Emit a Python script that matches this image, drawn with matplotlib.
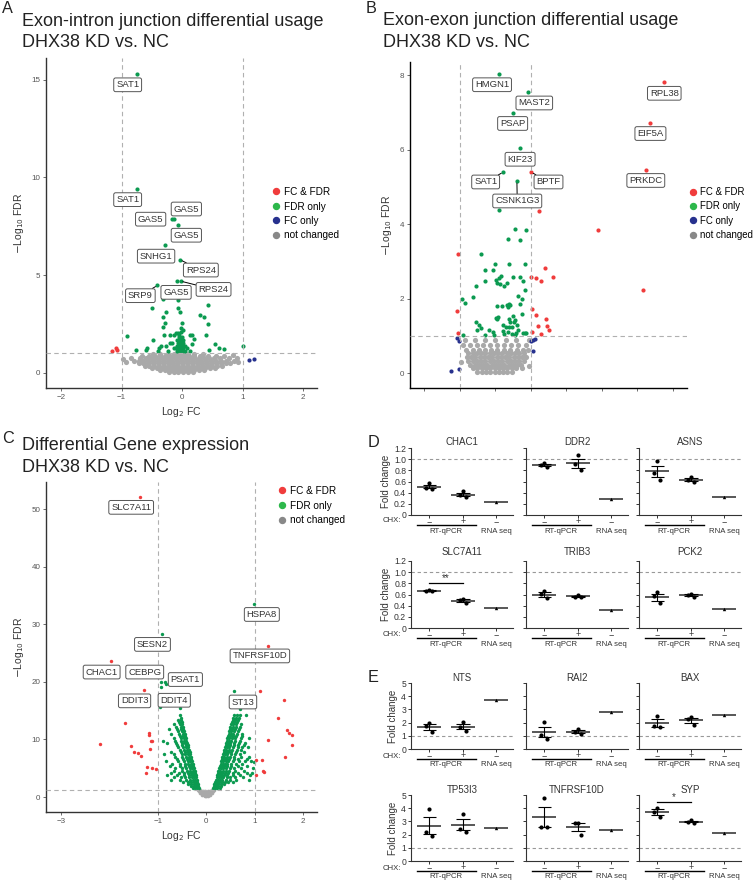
import matplotlib.pyplot as plt
import numpy as np
from matplotlib.lines import Line2D

plt.rcParams['font.family'] = ['Liberation Sans', 'DejaVu Sans']

RED = '#F03C3C'
GREEN = '#0B9A50'
LGREEN = '#2DB84B'
BLUE = '#27318E'
GREY = '#A9A9A9'

W, H = 754, 880

# ---------------- panel A: exon-intron junctions ----------------
green_a = [(-0.75, 15.29), (-0.75, 9.40), (-0.17, 7.85), (-0.14, 7.85), (-0.06, 7.58),
           (-0.29, 6.53), (-0.03, 5.78), (-0.08, 4.69), (-0.02, 4.69), (-0.41, 4.47),
           (-0.32, 3.76), (-0.06, 3.72), (-0.50, 3.33), (0.43, 3.45), (-0.06, 3.30),
           (-0.04, 3.10), (0.30, 2.98), (0.36, 2.86), (-0.32, 2.87), (-0.26, 3.12),
           (-0.29, 2.53), (-0.31, 2.35), (0.00, 2.53), (0.43, 2.52), (-0.91, 1.90),
           (-0.48, 1.68), (-0.30, 1.96), (-0.20, 1.96), (-0.13, 1.92), (-0.10, 2.02),
           (-0.05, 1.96), (-0.01, 2.10), (0.01, 2.22), (0.13, 1.96), (0.17, 1.96),
           (0.20, 1.76), (0.17, 1.50), (0.39, 1.93), (0.54, 1.46), (0.61, 1.29),
           (0.70, 1.24), (1.00, 1.36), (0.44, 1.16), (-0.77, 1.18), (-0.59, 1.18),
           (-0.58, 1.26), (-0.39, 1.26), (-0.35, 1.36), (-0.27, 1.39), (-0.20, 1.51),
           (-0.14, 1.26), (-0.40, 1.10), (-0.23, 1.10), (0.13, 1.10), (-0.08, 1.10),
           (-0.04, 1.10), (0.00, 1.10), (0.04, 1.10), (-0.10, 1.25), (-0.06, 1.25),
           (-0.02, 1.25), (0.02, 1.25), (-0.08, 1.40), (-0.04, 1.40), (0.00, 1.40),
           (0.04, 1.40), (-0.06, 1.55), (-0.02, 1.55), (0.02, 1.55), (-0.08, 1.70),
           (-0.03, 1.70), (0.01, 1.70), (-0.05, 1.85), (0.00, 1.85), (-0.02, 2.30),
           (-0.06, 2.05), (0.08, 1.30), (-0.16, 1.55)]
red_a = [(-1.16, 1.12), (-1.09, 1.29), (-1.07, 1.17)]
blue_a = [(1.11, 0.66), (1.19, 0.71)]
grey_a_rows = [
    (0.05, [-0.22, -0.14, -0.06, 0.02, 0.10, 0.18]),
    (0.15, [-0.36, -0.28, -0.20, -0.12, -0.04, 0.04, 0.12, 0.20, 0.28, 0.36]),
    (0.26, [-0.50, -0.42, -0.34, -0.26, -0.18, -0.10, -0.02, 0.06, 0.14, 0.22, 0.30, 0.38, 0.46, 0.54]),
    (0.38, [-0.62, -0.54, -0.46, -0.38, -0.30, -0.22, -0.14, -0.06, 0.02, 0.10, 0.18, 0.26, 0.34,
            0.42, 0.50, 0.58, 0.66]),
    (0.50, [-0.72, -0.64, -0.56, -0.48, -0.40, -0.32, -0.24, -0.16, -0.08, 0.00, 0.08, 0.16, 0.24,
            0.32, 0.40, 0.48, 0.56, 0.64, 0.72, 0.80]),
    (0.62, [-0.80, -0.72, -0.64, -0.56, -0.48, -0.40, -0.32, -0.24, -0.16, -0.08, 0.00, 0.08, 0.16,
            0.24, 0.32, 0.40, 0.48, 0.56, 0.64, 0.72, 0.86]),
    (0.74, [-0.84, -0.70, -0.60, -0.52, -0.44, -0.36, -0.28, -0.20, -0.12, -0.04, 0.04, 0.12, 0.20,
            0.28, 0.36, 0.44, 0.52, 0.62, 0.78, 0.90]),
    (0.86, [-0.66, -0.54, -0.44, -0.36, -0.28, -0.20, -0.12, -0.04, 0.04, 0.12, 0.20, 0.30, 0.42,
            0.56, 0.70]),
    (0.96, [-0.48, -0.36, -0.24, -0.14, -0.06, 0.02, 0.10, 0.20, 0.34]),
    (0.70, [-0.97]), (0.55, [-0.93, 0.92]), (0.94, [0.84]),
]
labels_a = [('SAT1', (-0.75, 15.29), (-0.90, 14.73), False),
            ('SAT1', (-0.75, 9.40), (-0.90, 8.86), False),
            ('GAS5', (-0.14, 7.85), (0.07, 8.38), False),
            ('GAS5', (-0.17, 7.85), (-0.52, 7.86), False),
            ('GAS5', (-0.06, 7.58), (0.07, 7.04), False),
            ('SNHG1', (-0.29, 6.53), (-0.43, 5.97), False),
            ('RPS24', (-0.03, 5.78), (0.31, 5.26), True),
            ('RPS24', (-0.02, 4.69), (0.52, 4.27), True),
            ('SRP9', (-0.41, 4.47), (-0.69, 3.95), True),
            ('GAS5', (-0.06, 3.72), (-0.10, 4.12), False)]

# ---------------- panel B: exon-exon junctions ----------------
green_b = [(0.10, 8.03), (0.92, 7.54), (0.49, 6.99), (0.69, 6.03), (0.22, 5.39), (0.61, 5.15),
           (0.12, 4.38), (0.57, 3.87), (0.88, 3.84), (0.37, 3.61), (0.69, 3.58), (-0.41, 3.21),
           (-0.01, 2.92), (0.38, 2.92), (0.84, 2.92), (-0.28, 2.78), (-0.06, 2.78), (0.16, 2.60),
           (0.12, 2.56), (0.03, 2.50), (0.05, 2.43), (-0.28, 2.47), (0.34, 2.43), (0.14, 2.38),
           (0.25, 2.33), (0.51, 2.57), (0.69, 2.59), (0.79, 2.47), (-0.55, 2.35), (0.83, 2.23),
           (0.64, 2.08), (0.75, 1.99), (-0.63, 2.05), (-0.94, 1.99), (-0.84, 1.88), (0.05, 1.80),
           (0.18, 1.80), (0.33, 1.84), (0.38, 1.86), (0.41, 1.83), (0.35, 1.77), (0.71, 1.85),
           (0.74, 1.58), (0.03, 1.47), (0.06, 1.44), (0.08, 1.50), (0.38, 1.44), (0.49, 1.52),
           (0.52, 1.38), (0.57, 1.43), (0.42, 1.36), (-0.55, 1.36), (-0.45, 1.29), (-0.41, 1.21),
           (-0.52, 1.15), (-0.90, 1.03), (-0.29, 1.03), (-0.18, 1.15), (-0.07, 1.09), (-0.03, 1.03),
           (0.22, 1.28), (0.30, 1.25), (0.40, 1.25), (0.48, 1.24), (0.62, 1.29), (0.23, 1.12),
           (0.36, 1.10), (0.48, 1.06), (0.56, 1.02), (0.59, 1.08), (0.64, 1.15), (0.78, 1.08),
           (0.83, 1.08), (0.88, 1.08), (0.25, 1.05)]
red_b = [(1.02, 5.39), (4.75, 7.80), (4.37, 6.72), (4.25, 5.45), (2.89, 3.85), (4.17, 2.23),
         (1.23, 4.35), (-1.04, 3.21), (-1.08, 1.67), (-1.06, 1.08), (1.02, 2.57), (1.14, 2.56),
         (1.30, 2.47), (1.39, 2.81), (1.64, 2.57), (1.04, 1.72), (1.16, 1.56), (1.43, 1.46),
         (1.21, 1.26), (1.46, 1.27), (1.50, 1.15), (1.28, 1.04), (1.03, 1.09)]
blue_b = [(-1.08, 0.95), (-1.03, 0.87), (1.02, 0.87), (1.07, 0.89), (1.12, 0.91), (1.05, 0.60),
          (-1.24, 0.06), (-1.03, 0.10)]
grey_b_rows = [
    (0.03, [-0.50, -0.38, -0.26, -0.14, -0.02, 0.10, 0.22, 0.34, 0.46]),
    (0.13, [-0.62, -0.50, -0.38, -0.26, -0.14, -0.02, 0.10, 0.22, 0.34, 0.46, 0.58, 0.76]),
    (0.23, [-0.70, -0.58, -0.46, -0.34, -0.22, -0.10, 0.02, 0.14, 0.26, 0.38, 0.50, 0.62, 0.72]),
    (0.33, [-0.76, -0.64, -0.52, -0.40, -0.28, -0.16, -0.04, 0.08, 0.20, 0.32, 0.44, 0.56, 0.68, 0.80]),
    (0.43, [-0.80, -0.68, -0.56, -0.44, -0.32, -0.20, -0.08, 0.04, 0.16, 0.28, 0.40, 0.52, 0.64,
            0.76, 0.86]),
    (0.53, [-0.76, -0.64, -0.52, -0.40, -0.28, -0.16, -0.04, 0.08, 0.20, 0.32, 0.44, 0.56, 0.68, 0.80]),
    (0.63, [-0.82, -0.62, -0.46, -0.30, -0.12, 0.06, 0.24, 0.42, 0.60, 0.78, 0.92]),
    (0.75, [-0.90, -0.70, -0.50, -0.34, -0.16, 0.04, 0.24, 0.44, 0.64, 0.86]),
    (0.88, [-0.84, -0.58, -0.30, 0.00, 0.30, 0.58, 0.94]),
    (0.30, [-0.95]), (0.20, [0.95]),
]
labels_b = [('HMGN1', (0.10, 8.03), (-0.09, 7.74), False),
            ('MAST2', (0.92, 7.54), (1.10, 7.25), False),
            ('PSAP', (0.49, 6.99), (0.49, 6.70), False),
            ('KIF23', (0.69, 6.03), (0.70, 5.74), False),
            ('SAT1', (0.22, 5.39), (-0.27, 5.13), True),
            ('BPTF', (1.02, 5.39), (1.50, 5.13), True),
            ('CSNK1G3', (0.61, 5.15), (0.62, 4.62), True),
            ('RPL38', (4.75, 7.80), (4.76, 7.51), False),
            ('EIF5A', (4.37, 6.72), (4.37, 6.43), False),
            ('PRKDC', (4.25, 5.45), (4.24, 5.17), False)]

# ---------------- panel C: differential gene expression ----------------
red_c = [(-1.37, 52.1), (1.28, 26.3), (-1.97, 23.6), (-1.29, 18.5), (1.12, 18.35), (1.60, 16.8),
         (1.49, 13.8), (1.67, 11.6), (1.71, 11.2), (1.78, 10.8), (1.78, 9.1), (1.62, 7.0),
         (1.28, 9.9), (1.03, 6.5), (1.16, 6.5), (1.17, 4.6), (1.20, 4.4), (1.02, 3.8),
         (-2.19, 9.2), (-1.68, 12.8), (-1.56, 8.9), (-1.50, 7.8), (-1.40, 7.6), (-1.34, 7.2),
         (-1.19, 11.2), (-1.18, 10.7), (-1.14, 9.7), (-1.11, 9.8), (-1.17, 8.3), (-1.22, 5.3),
         (-1.12, 5.1), (-1.04, 4.8), (-1.25, 4.1)]
green_c_extra = [(0.98, 33.6), (-0.91, 28.3), (-0.93, 20.0), (-0.85, 20.0), (-0.93, 19.1),
                 (-0.83, 19.6), (-0.96, 15.7), (0.58, 18.4), (-0.55, 15.5), (0.62, 16.0),
                 (0.70, 15.2), (-0.88, 7.5), (-0.90, 9.8), (-0.76, 11.8), (0.95, 4.2), (0.98, 6.0)]
green_c_rows = [
    (1.5, [-0.15, -0.19, -0.23, -0.28, 0.15, 0.19, 0.23, 0.28]),
    (1.85, [-0.16, -0.20, -0.25, -0.31, 0.16, 0.20, 0.25, 0.31]),
    (2.2, [-0.17, -0.21, -0.25, -0.31, -0.38, 0.17, 0.21, 0.25, 0.30, 0.37]),
    (2.6, [-0.18, -0.22, -0.26, -0.31, -0.38, -0.48, 0.19, 0.23, 0.27, 0.32, 0.38, 0.46, 0.56]),
    (3.0, [-0.19, -0.23, -0.27, -0.33, -0.42, -0.55, -0.72, 0.20, 0.24, 0.28, 0.33, 0.40, 0.50,
           0.62, 0.88]),
    (3.4, [-0.21, -0.25, -0.29, -0.35, -0.43, -0.52, -0.66, 0.22, 0.26, 0.30, 0.35, 0.42, 0.50,
           0.60, 0.76]),
    (3.8, [-0.22, -0.26, -0.30, -0.36, -0.45, -0.60, -0.80, 0.23, 0.27, 0.31, 0.36, 0.44, 0.55,
           0.70, 0.90]),
    (4.2, [-0.23, -0.27, -0.31, -0.37, -0.46, -0.56, -0.72, 0.24, 0.28, 0.32, 0.38, 0.46, 0.56,
           0.66, 0.84]),
    (4.6, [-0.24, -0.28, -0.33, -0.40, -0.50, -0.66, 0.25, 0.29, 0.34, 0.40, 0.48, 0.60, 0.78]),
    (5.0, [-0.26, -0.30, -0.34, -0.41, -0.50, -0.64, 0.27, 0.31, 0.35, 0.41, 0.49, 0.58, 0.72,
           0.96]),
    (5.4, [-0.27, -0.31, -0.36, -0.43, -0.55, -0.75, 0.28, 0.32, 0.37, 0.43, 0.52, 0.65, 0.85]),
    (5.8, [-0.28, -0.32, -0.37, -0.44, -0.54, -0.70, 0.30, 0.34, 0.38, 0.44, 0.52, 0.62, 0.74]),
    (6.2, [-0.29, -0.33, -0.38, -0.46, -0.58, -0.82, 0.31, 0.35, 0.40, 0.46, 0.55, 0.68, 0.80,
           0.92]),
    (6.6, [-0.31, -0.35, -0.40, -0.48, -0.60, 0.32, 0.36, 0.41, 0.48, 0.57, 0.66, 0.84]),
    (7.0, [-0.32, -0.36, -0.41, -0.50, -0.64, 0.33, 0.37, 0.42, 0.49, 0.58, 0.72, 0.88]),
    (7.4, [-0.33, -0.37, -0.43, -0.51, -0.66, 0.35, 0.39, 0.44, 0.51, 0.60, 0.70]),
    (7.8, [-0.34, -0.38, -0.44, -0.53, -0.72, 0.36, 0.40, 0.45, 0.52, 0.62, 0.78]),
    (8.2, [-0.36, -0.40, -0.46, -0.55, 0.37, 0.41, 0.47, 0.54, 0.63, 0.72]),
    (8.6, [-0.37, -0.41, -0.47, -0.58, 0.39, 0.43, 0.48, 0.55, 0.65, 0.75, 0.86]),
    (9.0, [-0.38, -0.42, -0.49, -0.60, 0.40, 0.44, 0.49, 0.57, 0.66, 0.78]),
    (9.4, [-0.39, -0.43, -0.50, -0.62, -0.80, 0.41, 0.45, 0.50, 0.58, 0.68, 0.80]),
    (9.8, [-0.41, -0.45, -0.52, -0.64, 0.43, 0.47, 0.52, 0.59, 0.70]),
    (10.2, [-0.42, -0.46, -0.53, -0.66, 0.44, 0.48, 0.53, 0.60, 0.72, 0.88]),
    (10.6, [-0.43, -0.47, -0.55, 0.45, 0.49, 0.55, 0.62, 0.74]),
    (11.0, [-0.44, -0.48, -0.56, -0.72, 0.47, 0.51, 0.56, 0.63, 0.75]),
    (11.4, [-0.46, -0.50, -0.58, 0.48, 0.52, 0.58, 0.66]),
    (11.8, [-0.47, -0.52, -0.60, 0.49, 0.53, 0.59, 0.68]),
    (12.2, [-0.48, -0.53, -0.62, 0.50, 0.55, 0.61, 0.70]),
    (12.6, [-0.49, -0.55, -0.66, 0.52, 0.56, 0.62, 0.72]),
    (13.0, [-0.51, -0.56, 0.53, 0.58, 0.64]),
    (13.4, [-0.52, -0.58, 0.55, 0.60, 0.66]),
    (13.8, [-0.53, 0.56, 0.62, 0.68]),
    (14.2, [-0.54, 0.57, 0.63, 0.70, 0.82]),
]
grey_c_rows = [
    (0.1, [-0.03, 0.00, 0.03]),
    (0.4, [-0.08, -0.04, 0.00, 0.04, 0.08]),
    (0.7, [-0.12, -0.08, -0.04, 0.00, 0.04, 0.08, 0.12]),
    (1.0, [-0.15, -0.11, -0.07, -0.03, 0.03, 0.07, 0.11, 0.15]),
    (1.25, [-0.17, -0.13, 0.13, 0.17]),
]
labels_c = [('SLC7A11', (-1.37, 52.1), (-1.55, 50.3)),
            ('HSPA8', (0.98, 33.6), (1.15, 31.7)),
            ('SESN2', (-0.91, 28.3), (-1.11, 26.5)),
            ('TNFRSF10D', (1.28, 26.3), (1.11, 24.5)),
            ('CHAC1', (-1.97, 23.6), (-2.16, 21.7)),
            ('CEBPG', (-0.93, 20.0), (-1.27, 21.7)),
            ('PSAT1', (-0.83, 19.6), (-0.43, 20.4)),
            ('DDIT3', (-1.29, 18.5), (-1.48, 16.7)),
            ('DDIT4', (-0.96, 15.7), (-0.66, 16.8)),
            ('ST13', (0.58, 18.4), (0.76, 16.5))]

# ---------------- panels D / E: RT-qPCR validation ----------------
d_genes = ['CHAC1', 'DDR2', 'ASNS', 'SLC7A11', 'TRIB3', 'PCK2']
d_minus = [[0.57, 0.47, 0.48], [0.93, 0.90, 0.86], [0.97, 0.75, 0.62],
           [0.68, 0.67, 0.66], [0.66, 0.61, 0.53], [0.65, 0.57, 0.44]]
d_plus = [[0.43, 0.35, 0.32], [1.08, 0.91, 0.80], [0.68, 0.62, 0.59],
          [0.52, 0.50, 0.45], [0.59, 0.56, 0.55], [0.61, 0.59, 0.56]]
d_rnaseq = [0.23, 0.28, 0.33, 0.36, 0.33, 0.34]
d_sig = {'SLC7A11': ('**', 0.81)}

e_genes = ['NTS', 'RAI2', 'BAX', 'TP53I3', 'TNFRSF10D', 'SYP']
e_minus = [[1.95, 1.75, 1.30], [2.05, 1.05, 0.78], [2.50, 1.75, 1.65],
           [3.95, 2.20, 1.90], [4.80, 2.60, 2.55], [4.05, 3.75, 3.30]]
e_plus = [[2.05, 1.65, 1.40], [1.50, 1.30, 1.10], [2.45, 2.25, 1.80],
          [3.55, 2.45, 2.20], [2.90, 2.90, 2.00], [3.10, 2.95, 2.90]]
e_rnaseq = [3.72, 2.82, 2.55, 2.47, 2.35, 2.10]
e_sig = {'SYP': ('*', 4.5)}
chx_labels = ['\u2212', '+', '\u2212']


def rect(left, top, right, bottom):
    return [left / W, 1 - bottom / H, (right - left) / W, (bottom - top) / H]


fig = plt.figure(figsize=(W / 100, H / 100), dpi=100)


def rows_to_xy(rows):
    xs, ys = [], []
    for y, row in rows:
        xs += row
        ys += [y] * len(row)
    return xs, ys


def volcano(ax, xlim, ylim, xticks, yticks, hline, green, red, blue, grey_rows, size, gsize):
    gx, gy = rows_to_xy(grey_rows)
    ax.scatter(gx, gy, s=gsize, color=GREY, lw=0, zorder=2)
    for pts, col in [(green, GREEN), (red, RED), (blue, BLUE)]:
        if pts:
            ax.scatter([p[0] for p in pts], [p[1] for p in pts], s=size, color=col, lw=0, zorder=3)
    for xv in (-1, 1):
        ax.axvline(xv, color='#B0B0B0', lw=0.8, ls=(0, (4, 3)), zorder=4)
    ax.axhline(hline, color='#B0B0B0', lw=0.8, ls=(0, (4, 3)), zorder=4)
    ax.set_xlim(xlim)
    ax.set_ylim(ylim)
    ax.set_xticks(xticks)
    ax.set_yticks(yticks)
    for s in ('top', 'right'):
        ax.spines[s].set_visible(False)
    for s in ('left', 'bottom'):
        ax.spines[s].set_color('#333333')
        ax.spines[s].set_linewidth(1.0)
    ax.tick_params(labelsize=5.8, colors='#555555', length=2.5, width=0.6, pad=1.5)
    ax.set_ylabel(r'$-$Log$_{10}$ FDR', fontsize=7.5, color='#333333', labelpad=4)


def add_labels(ax, labels, fs=6.8):
    for item in labels:
        txt, pt, box = item[0], item[1], item[2]
        line = item[3] if len(item) > 3 else False
        kw = dict(ha='center', va='center', fontsize=fs, color='#333333', zorder=6,
                  bbox=dict(boxstyle='round,pad=0.25,rounding_size=0.2', fc='white',
                            ec='#555555', lw=0.7))
        if line:
            ax.annotate(txt, xy=pt, xytext=box, textcoords='data',
                        arrowprops=dict(arrowstyle='-', color='black', lw=0.7,
                                        shrinkA=0, shrinkB=1.5), **kw)
        else:
            ax.text(box[0], box[1], txt, **kw)


def legend(entries, x, y, fs=7.2):
    handles = [Line2D([], [], ls='', marker='o', ms=4.3, color=c) for _, c in entries]
    fig.legend(handles, [t for t, _ in entries], loc='upper left',
               bbox_to_anchor=(x / W, 1 - y / H), frameon=False, fontsize=fs,
               handlelength=0.8, handletextpad=0.35, labelspacing=0.45,
               borderpad=0, borderaxespad=0)


leg4 = [('FC & FDR', RED), ('FDR only', LGREEN), ('FC only', BLUE), ('not changed', '#888888')]

# A
axA = fig.add_axes(rect(46, 58, 317, 388))
volcano(axA, (-2.25, 2.23), (-0.77, 16.1), [-2, -1, 0, 1, 2], [0, 5, 10, 15], 1.0,
        green_a, red_a, blue_a, grey_a_rows, 9, 14)
axA.set_xlabel(r'Log$_2$ FC', fontsize=7.5, color='#333333', labelpad=3)
add_labels(axA, labels_a)
legend(leg4, 272, 187)

# B
axB = fig.add_axes(rect(410, 62, 687, 388))
volcano(axB, (-2.4, 5.4), (-0.4, 8.35), [-2, -1, 0, 1, 2, 3, 4, 5], [0, 2, 4, 6, 8], 1.0,
        green_b, red_b, blue_b, grey_b_rows, 9, 14)
axB.set_xticklabels([])
axB.spines['left'].set_color('black')
axB.spines['bottom'].set_color('black')
add_labels(axB, labels_b)
legend(leg4, 689, 187, fs=6.9)

# C
axC = fig.add_axes(rect(46, 482, 317, 812))
gcx, gcy = rows_to_xy(green_c_rows)
green_c = list(zip(gcx, gcy)) + green_c_extra
volcano(axC, (-3.31, 2.29), (-2.6, 54.7), [-3, -1, 0, 1, 2], [0, 10, 20, 30, 40, 50], 1.3,
        green_c, red_c, [], grey_c_rows, 6, 7)
axC.set_xlabel(r'Log$_2$ FC', fontsize=7.5, color='#333333', labelpad=3)
add_labels(axC, labels_c)
legend([('FC & FDR', RED), ('FDR only', LGREEN), ('not changed', '#888888')], 278, 486)


def dot_panel(ax, gene, minus, plus, rnaseq, ymax, yticks, yticklabels, first, sig, tpad):
    offs = np.array([0.0, -0.09, 0.09])
    for i, vals in enumerate([minus, plus]):
        v = np.sort(np.array(vals))[::-1]
        m = v.mean()
        sem = v.std(ddof=1) / np.sqrt(len(v))
        ax.scatter(i + offs, v, s=9, color='black', lw=0, zorder=4)
        ax.hlines(m, i - 0.36, i + 0.36, color='#4a4a4a', lw=1.3, zorder=3)
        ax.vlines(i, m - sem, m + sem, color='black', lw=0.8, zorder=3)
        ax.hlines([m - sem, m + sem], i - 0.2, i + 0.2, color='black', lw=0.8, zorder=3)
    ax.hlines(rnaseq, 2 - 0.36, 2 + 0.36, color='#4a4a4a', lw=1.3, zorder=3)
    ax.scatter([2], [rnaseq], marker='^', s=6, color='black', lw=0, zorder=4)
    ax.axhline(1.0, color='#999999', lw=0.8, ls=(0, (3, 2.5)), zorder=1)
    if sig is not None:
        ax.plot([0, 1], [sig[1], sig[1]], color='black', lw=0.9)
        ax.text(0.5, sig[1], sig[0], ha='center', va='bottom', fontsize=7, color='#333333')
    ax.set_xlim(-0.55, 2.5)
    ax.set_ylim(0, ymax)
    ax.set_xticks([0, 1, 2])
    ax.set_xticklabels([])
    ax.set_yticks(yticks)
    if first:
        ax.set_yticklabels(yticklabels, fontsize=6.2)
        ax.set_ylabel('Fold change', fontsize=7, color='#333333', labelpad=2)
    else:
        ax.set_yticklabels([])
    for s in ('top', 'right'):
        ax.spines[s].set_visible(False)
    for s in ('left', 'bottom'):
        ax.spines[s].set_color('#333333')
        ax.spines[s].set_linewidth(0.8)
    ax.tick_params(length=2.5, width=0.7, pad=1, colors='#333333')
    ax.set_title(gene, fontsize=7, color='#333333', pad=tpad)
    tr = ax.get_xaxis_transform()
    for i, lab in enumerate(chx_labels):
        ax.text(i, -0.095, lab, transform=tr, ha='center', va='center', fontsize=6.5,
                color='#333333')
    ax.plot([-0.38, 1.38], [-0.155, -0.155], transform=tr, clip_on=False, color='black', lw=1)
    ax.text(0.5, -0.24, 'RT-qPCR', transform=tr, ha='center', va='center', fontsize=5.6,
            color='#333333')
    ax.text(2.0, -0.24, 'RNA seq', transform=tr, ha='center', va='center', fontsize=5.6,
            color='#333333')


lefts = [411, 526, 639]
d_ticks = [0, 0.2, 0.4, 0.6, 0.8, 1.0, 1.2]
d_ticklabels = ['0', '0.2', '0.4', '0.6', '0.8', '1.0', '1.2']
e_ticks = [0, 1, 2, 3, 4, 5]
e_ticklabels = ['0', '1', '2', '3', '4', '5']
d_rows = [(448, 515, 2.2), (561, 628, 4.5)]
e_rows = [(683, 749, 1.5), (795, 861, 1.5)]

for k, g in enumerate(d_genes):
    top, bot, tpad = d_rows[k // 3]
    ax = fig.add_axes(rect(lefts[k % 3], top, lefts[k % 3] + 102, bot))
    dot_panel(ax, g, d_minus[k], d_plus[k], d_rnaseq[k], 1.2, d_ticks, d_ticklabels,
              k % 3 == 0, d_sig.get(g), tpad)
for k, g in enumerate(e_genes):
    top, bot, tpad = e_rows[k // 3]
    ax = fig.add_axes(rect(lefts[k % 3], top, lefts[k % 3] + 102, bot))
    dot_panel(ax, g, e_minus[k], e_plus[k], e_rnaseq[k], 5, e_ticks, e_ticklabels,
              k % 3 == 0, e_sig.get(g), tpad)

for ybase in (521, 634, 756, 868):
    fig.text(383 / W, 1 - ybase / H, 'CHX:', fontsize=5.6, color='#333333', va='center')

# titles and panel letters
titles = [(22, 26, 'Exon-intron junction differential usage'), (22, 46.7, 'DHX38 KD vs. NC'),
          (383, 25, 'Exon-exon junction differential usage'), (383, 46.7, 'DHX38 KD vs. NC'),
          (22, 450, 'Differential Gene expression'), (22, 471.7, 'DHX38 KD vs. NC')]
for x, y, t in titles:
    fig.text(x / W, 1 - y / H, t, fontsize=13, color='#222222', va='baseline')
for x, y, t in [(2, 13.3, 'A'), (366, 13.3, 'B'), (2, 442.7, 'C'), (368, 446.7, 'D'),
                (368, 682, 'E')]:
    fig.text(x / W, 1 - y / H, t, fontsize=11.7, color='#222222', va='baseline')

fig.savefig('out.png', dpi=100)
